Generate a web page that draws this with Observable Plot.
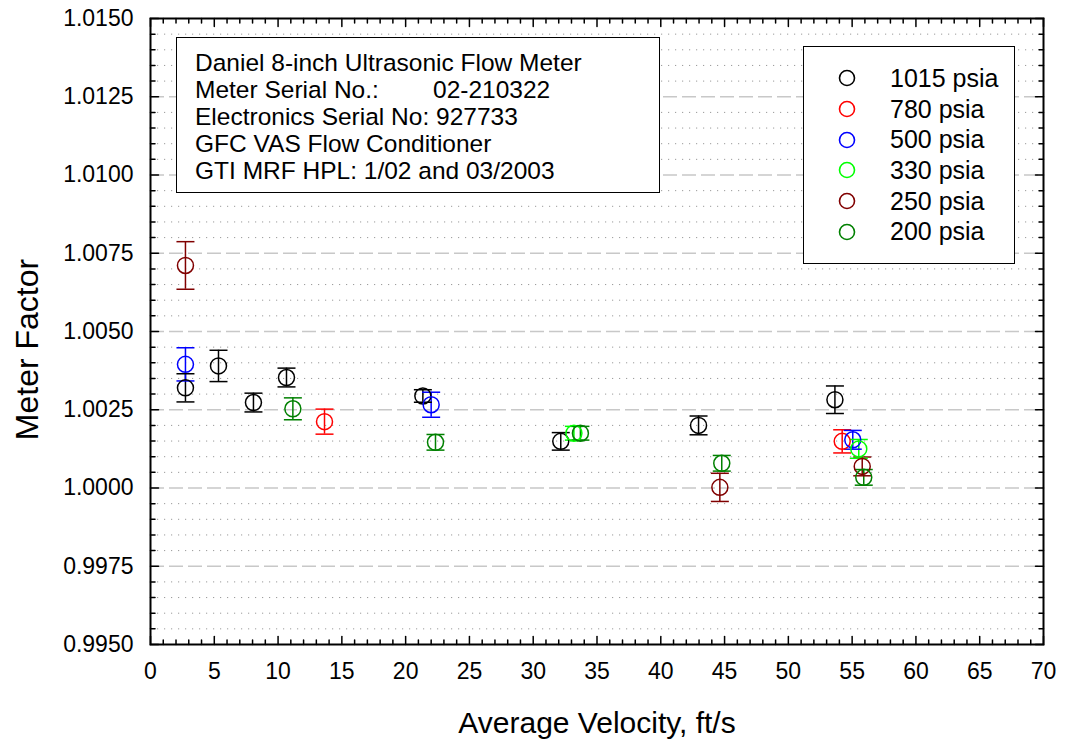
<!DOCTYPE html>
<html><head><meta charset="utf-8">
<script src="https://cdn.jsdelivr.net/npm/d3@7"></script>
<script src="https://cdn.jsdelivr.net/npm/@observablehq/plot@0.6"></script>
<style>
body{margin:0;background:#fff;font-family:"Liberation Sans",Arial,sans-serif;color:#000;}
#wrap{position:relative;width:1065px;height:742px;}
#note{position:absolute;left:176px;top:37px;width:484px;height:156px;border:1.5px solid #000;background:#fff;box-sizing:border-box;padding:11px 0 0 18px;font-size:24.5px;line-height:27px;white-space:nowrap;}
#legend{position:absolute;left:803px;top:46px;width:212px;height:218px;border:1.5px solid #000;background:#fff;box-sizing:border-box;padding-top:16px;font-size:25px;}
#legend .row{height:30.7px;display:flex;align-items:center;}
#legend svg{margin-left:33px;margin-right:33px;flex:none;}
</style></head><body><div id="wrap"></div>
<script>
// ---- data ----
const seriesNames = ["1015 psia", "780 psia", "500 psia", "330 psia", "250 psia", "200 psia"];
const seriesColors = ["#000000", "#ff0000", "#0000ff", "#00ff00", "#800000", "#008000"];

const vel1015 = [2.74, 5.33, 8.07, 10.66, 21.35, 32.16, 42.96, 53.65];
const mf1015  = [1.0032, 1.0039, 1.00273, 1.00353, 1.00294, 1.00149, 1.0020, 1.00282];
const err1015 = [0.00045, 0.0005, 0.0003, 0.0003, 0.0002, 0.00028, 0.0003, 0.00044];

const vel780 = [13.64, 54.22];
const mf780  = [1.00212, 1.00149];
const err780 = [0.0004, 0.00037];

const vel500 = [2.74, 22.0, 55.05];
const mf500  = [1.00395, 1.00266, 1.00154];
const err500 = [0.00053, 0.0004, 0.0003];

const vel330 = [33.19, 55.52];
const mf330  = [1.00175, 1.00125];
const err330 = [0.00022, 0.0003];

const vel250 = [2.74, 44.63, 55.79];
const mf250  = [1.00711, 1.00002, 1.00069];
const err250 = [0.00076, 0.00045, 0.0003];

const vel200 = [11.16, 22.34, 33.7, 44.78, 55.91];
const mf200  = [1.00253, 1.00146, 1.00175, 1.00079, 1.00034];
const err200 = [0.00035, 0.00025, 0.00022, 0.00025, 0.00025];

const xTicks = [0, 5, 10, 15, 20, 25, 30, 35, 40, 45, 50, 55, 60, 65, 70];
const yTicks = [0.995, 0.9975, 1.0, 1.0025, 1.005, 1.0075, 1.01, 1.0125, 1.015];
const xTitle = "Average Velocity, ft/s";
const yTitle = "Meter Factor";
const noteLines = ["Daniel 8-inch Ultrasonic Flow Meter", ["Meter Serial No.:", "02-210322"], "Electronics Serial No: 927733", "GFC VAS Flow Conditioner", "GTI MRF HPL: 1/02 and 03/2003"];

// ---- build table ----
const groups = [
  [vel1015, mf1015, err1015], [vel780, mf780, err780], [vel500, mf500, err500],
  [vel330, mf330, err330], [vel250, mf250, err250], [vel200, mf200, err200]
];
const rows = [];
groups.forEach(([xs, ys, es], gi) => xs.forEach((x, i) => rows.push({series: seriesNames[gi], x, y: ys[i], e: es[i]})));

const xMinor = d3.range(0, 71, 1).filter(v => v % 5 !== 0);
const yMinor = d3.range(0, 41).map(i => 0.995 + i * 0.0005).filter((v, i) => i % 5 !== 0);
const yMajorInner = yTicks.slice(1, -1);

const capSymbol = {draw(ctx, size) { const r = Math.sqrt(size / Math.PI); ctx.moveTo(-r, 0); ctx.lineTo(r, 0); }};
const tickShape = {draw(ctx, l) { ctx.moveTo(0, 0); ctx.lineTo(0, -l); }};
const tk = {anchor: "start", shape: tickShape, stroke: "#000", strokeWidth: 1.5};

const chart = Plot.plot({
  width: 1065, height: 742,
  marginLeft: 150, marginRight: 22, marginTop: 18, marginBottom: 98,
  style: {fontFamily: "'Liberation Sans', Arial, sans-serif", fontSize: "23px", background: "#fff", color: "#000"},
  x: {domain: [0, 70]},
  y: {domain: [0.995, 1.015]},
  color: {domain: seriesNames, range: seriesColors},
  marks: [
    Plot.ruleY(yMinor, {stroke: "#9a9a9a", strokeDasharray: "1.2,5.8"}),
    Plot.ruleY(yMajorInner, {stroke: "#c8c8c8", strokeWidth: 1.5, strokeDasharray: "14,5"}),
    Plot.ruleX(rows, {x: "x", y1: d => d.y - d.e, y2: d => d.y + d.e, stroke: "series", strokeWidth: 1.5}),
    Plot.dot(rows, {x: "x", y: d => d.y + d.e, symbol: capSymbol, r: 9, fill: "none", stroke: "series", strokeWidth: 1.5}),
    Plot.dot(rows, {x: "x", y: d => d.y - d.e, symbol: capSymbol, r: 9, fill: "none", stroke: "series", strokeWidth: 1.5}),
    Plot.dot(rows, {x: "x", y: "y", r: 8, fill: "none", stroke: "series", strokeWidth: 1.5}),
    // inward ticks on all four sides
    Plot.vector(xTicks, {x: d => d, frameAnchor: "bottom", length: 8, rotate: 0, ...tk}),
    Plot.vector(xMinor, {x: d => d, frameAnchor: "bottom", length: 4.5, rotate: 0, ...tk}),
    Plot.vector(xTicks, {x: d => d, frameAnchor: "top", length: 8, rotate: 180, ...tk}),
    Plot.vector(xMinor, {x: d => d, frameAnchor: "top", length: 4.5, rotate: 180, ...tk}),
    Plot.vector(yTicks, {y: d => d, frameAnchor: "left", length: 8, rotate: 90, ...tk}),
    Plot.vector(yMinor, {y: d => d, frameAnchor: "left", length: 4.5, rotate: 90, ...tk}),
    Plot.vector(yTicks, {y: d => d, frameAnchor: "right", length: 8, rotate: 270, ...tk}),
    Plot.vector(yMinor, {y: d => d, frameAnchor: "right", length: 4.5, rotate: 270, ...tk}),
    Plot.axisX({ticks: xTicks, tickSize: 0, tickPadding: 18, label: null, fontSize: 23, tickFormat: d => String(d)}),
    Plot.axisY({ticks: yTicks, tickSize: 0, tickPadding: 17, label: null, fontSize: 23, tickFormat: d => d.toFixed(4)}),
    Plot.frame({stroke: "#000", strokeWidth: 2}),
    Plot.text([xTitle], {text: d => d, frameAnchor: "bottom", textAnchor: "middle", lineAnchor: "middle", dy: 79, fontSize: 30}),
    Plot.text([yTitle], {text: d => d, frameAnchor: "left", textAnchor: "middle", lineAnchor: "middle", dx: -123, dy: 18, rotate: -90, fontSize: 32})
  ]
});

const wrap = document.getElementById("wrap");
wrap.appendChild(chart);

// annotation box
const note = document.createElement("div");
note.id = "note";
noteLines.forEach(l => {
  const div = document.createElement("div");
  if (Array.isArray(l)) {
    const s = document.createElement("span");
    s.style.display = "inline-block"; s.style.width = "238px";
    s.textContent = l[0];
    div.appendChild(s);
    div.appendChild(document.createTextNode(l[1]));
  } else div.textContent = l;
  note.appendChild(div);
});
wrap.appendChild(note);

// legend
const legend = document.createElement("div");
legend.id = "legend";
seriesNames.forEach((n, i) => {
  const row = document.createElement("div");
  row.className = "row";
  row.innerHTML = `<svg width="20" height="20"><circle cx="10" cy="10" r="7.5" fill="none" stroke="${seriesColors[i]}" stroke-width="1.6"/></svg><span>${n}</span>`;
  legend.appendChild(row);
});
wrap.appendChild(legend);
</script></body></html>
